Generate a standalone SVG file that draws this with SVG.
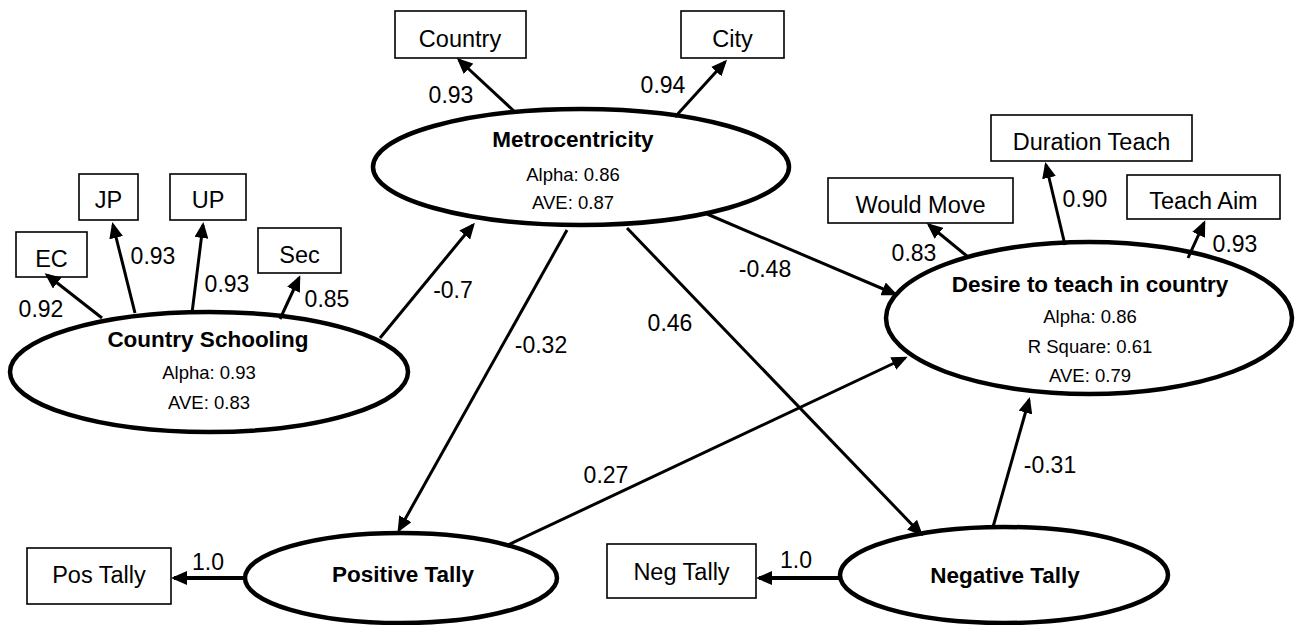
<svg xmlns="http://www.w3.org/2000/svg" width="1296" height="625" viewBox="0 0 1296 625">
<style>
  .lat { fill: #fff; stroke: #000; stroke-width: 4.5; }
  .box { fill: #fff; stroke: #000; stroke-width: 1.6; }
  .title { font-family: "Liberation Sans", Arial, sans-serif; font-weight: bold; font-size: 22.5px; fill: #000; text-anchor: middle; }
  .stat { font-family: "Liberation Sans", Arial, sans-serif; font-size: 18.5px; fill: #000; text-anchor: middle; }
  .btxt { font-family: "Liberation Sans", Arial, sans-serif; font-size: 23.5px; fill: #000; text-anchor: middle; }
  .lbl { font-family: "Liberation Sans", Arial, sans-serif; font-size: 23px; fill: #000; text-anchor: middle; }
  .c { fill: none; stroke: #000; stroke-width: 3; marker-end: url(#ah); }
  .c2 { fill: none; stroke: #000; stroke-width: 4; marker-end: url(#ah); }
</style>
<defs>
  <marker id="ah" viewBox="0 0 16 14" refX="13" refY="7" markerWidth="16" markerHeight="14" markerUnits="userSpaceOnUse" orient="auto">
    <path d="M0,0 L16,7 L0,14 z" fill="#000"/>
  </marker>
</defs>
<rect width="1296" height="625" fill="#fff"/>

<g id="node-country-schooling">
  <ellipse class="lat" cx="209" cy="372" rx="199" ry="60"/>
  <text class="title" x="208" y="347">Country Schooling</text>
  <text class="stat" x="209" y="379">Alpha: 0.93</text>
  <text class="stat" x="209" y="409">AVE: 0.83</text>
</g>
<g id="node-metrocentricity">
  <ellipse class="lat" cx="581" cy="167" rx="208" ry="58"/>
  <text class="title" x="573" y="147">Metrocentricity</text>
  <text class="stat" x="573" y="181">Alpha: 0.86</text>
  <text class="stat" x="573" y="209">AVE: 0.87</text>
</g>
<g id="node-desire">
  <ellipse class="lat" cx="1089" cy="318" rx="203" ry="76"/>
  <text class="title" x="1090" y="292">Desire to teach in country</text>
  <text class="stat" x="1090" y="323">Alpha: 0.86</text>
  <text class="stat" x="1090" y="353">R Square: 0.61</text>
  <text class="stat" x="1090" y="382">AVE: 0.79</text>
</g>
<g id="node-positive-tally">
  <ellipse class="lat" cx="401" cy="578" rx="156" ry="45"/>
  <text class="title" x="403" y="582">Positive Tally</text>
</g>
<g id="node-negative-tally">
  <ellipse class="lat" cx="1004" cy="575" rx="164" ry="48"/>
  <text class="title" x="1005" y="583">Negative Tally</text>
</g>

<g id="box-ec"><rect class="box" x="16" y="232" width="71" height="45"/><text class="btxt" x="51.5" y="267">EC</text></g>
<g id="box-jp"><rect class="box" x="79" y="174" width="59" height="46"/><text class="btxt" x="108.5" y="208">JP</text></g>
<g id="box-up"><rect class="box" x="170" y="174" width="76" height="46"/><text class="btxt" x="208" y="208">UP</text></g>
<g id="box-sec"><rect class="box" x="258" y="228" width="83" height="45"/><text class="btxt" x="299.5" y="263">Sec</text></g>
<g id="box-country"><rect class="box" x="395" y="11" width="131" height="47"/><text class="btxt" x="460" y="47">Country</text></g>
<g id="box-city"><rect class="box" x="681" y="11" width="103" height="47"/><text class="btxt" x="732.5" y="47">City</text></g>
<g id="box-duration-teach"><rect class="box" x="991" y="115" width="201" height="46"/><text class="btxt" x="1091.5" y="150">Duration Teach</text></g>
<g id="box-would-move"><rect class="box" x="828" y="178" width="185" height="45"/><text class="btxt" x="920.5" y="213">Would Move</text></g>
<g id="box-teach-aim"><rect class="box" x="1127" y="175" width="153" height="44"/><text class="btxt" x="1203.5" y="209">Teach Aim</text></g>
<g id="box-pos-tally"><rect class="box" x="27" y="548" width="144" height="56"/><text class="btxt" x="99" y="583">Pos Tally</text></g>
<g id="box-neg-tally"><rect class="box" x="607" y="544" width="149" height="54"/><text class="btxt" x="681.5" y="580">Neg Tally</text></g>

<g id="connectors">
  <line class="c" x1="102" y1="318" x2="47" y2="275"/>
  <line class="c" x1="135" y1="313" x2="113" y2="225"/>
  <line class="c" x1="192" y1="313" x2="203" y2="225"/>
  <line class="c" x1="280" y1="319" x2="299" y2="278"/>
  <line class="c" x1="515" y1="112" x2="459" y2="60"/>
  <line class="c" x1="675" y1="117" x2="725" y2="62"/>
  <line class="c" x1="968" y1="257" x2="929" y2="225"/>
  <line class="c" x1="1065" y1="245" x2="1046" y2="165"/>
  <line class="c" x1="1188" y1="258" x2="1204" y2="223"/>
  <line class="c" x1="380" y1="338" x2="473" y2="225"/>
  <line class="c" x1="567" y1="230" x2="399" y2="530"/>
  <line class="c" x1="627" y1="228" x2="921" y2="534"/>
  <line class="c" x1="707" y1="214" x2="895" y2="294"/>
  <line class="c" x1="508" y1="545" x2="905" y2="358"/>
  <line class="c" x1="993" y1="527" x2="1029" y2="400"/>
  <line class="c2" x1="245" y1="578" x2="174" y2="578"/>
  <line class="c2" x1="840" y1="578" x2="759" y2="578"/>
</g>

<g id="labels">
  <text class="lbl" x="41" y="317">0.92</text>
  <text class="lbl" x="153" y="264">0.93</text>
  <text class="lbl" x="227" y="292">0.93</text>
  <text class="lbl" x="327" y="307">0.85</text>
  <text class="lbl" x="451" y="103">0.93</text>
  <text class="lbl" x="663" y="93">0.94</text>
  <text class="lbl" x="914" y="261">0.83</text>
  <text class="lbl" x="1085" y="207">0.90</text>
  <text class="lbl" x="1235" y="252">0.93</text>
  <text class="lbl" x="453" y="298">-0.7</text>
  <text class="lbl" x="541" y="353">-0.32</text>
  <text class="lbl" x="765" y="277">-0.48</text>
  <text class="lbl" x="670" y="331">0.46</text>
  <text class="lbl" x="606" y="483">0.27</text>
  <text class="lbl" x="1050" y="473">-0.31</text>
  <text class="lbl" x="208" y="570">1.0</text>
  <text class="lbl" x="796" y="568">1.0</text>
</g>
</svg>
